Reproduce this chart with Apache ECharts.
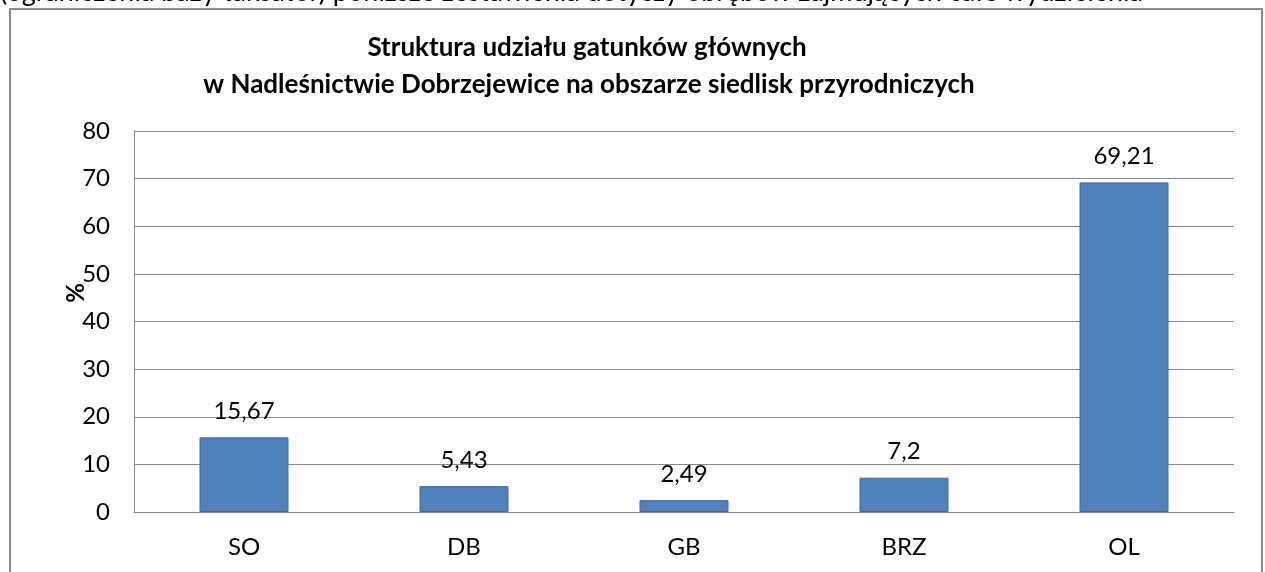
<!DOCTYPE html>
<html>
<head>
<meta charset="utf-8">
<script src="https://cdn.jsdelivr.net/npm/echarts@6/dist/echarts.min.js"></script>
<style>
html,body{margin:0;padding:0;background:#fff;}
#chart{width:1265px;height:572px;}
</style>
</head>
<body>
<div id="chart"></div>
<script>
const categories = ['SO', 'DB', 'GB', 'BRZ', 'OL'];
const values = [15.67, 5.43, 2.49, 7.2, 69.21];
const yTicks = [0, 10, 20, 30, 40, 50, 60, 70, 80];
const titleLines = ['Struktura udziału gatunków głównych', 'w Nadleśnictwie Dobrzejewice na obszarze siedlisk przyrodniczych'];
const yAxisName = '%';
const topNote = '(ograniczenia bazy taksator) poniższe zestawienia dotyczy obrębów zajmujących całe wydzielenia';

const FONT = 'Lato, "Open Sans", sans-serif';
const chart = echarts.init(document.getElementById('chart'), null, {renderer: 'canvas'});
chart.setOption({
  animation: false,
  backgroundColor: '#ffffff',
  grid: {left: 134, right: 31, top: 131, bottom: 60, containLabel: false},
  graphic: [
    {type: 'rect', shape: {x: 10, y: 9, width: 1252, height: 600}, style: {fill: 'none', stroke: '#8c8c8c', lineWidth: 2}, z: -1},
    {type: 'text', x: 0, y: 6, style: {text: topNote, font: '27px ' + FONT, fill: '#000', textVerticalAlign: 'bottom'}},
    {type: 'text', x: 587, y: 48, style: {text: titleLines[0], font: 'bold 26px ' + FONT, fill: '#000', align: 'center', verticalAlign: 'middle'}},
    {type: 'text', x: 589, y: 85, style: {text: titleLines[1], font: 'bold 26px ' + FONT, fill: '#000', align: 'center', verticalAlign: 'middle'}},
    {type: 'text', x: 76, y: 293, rotation: Math.PI / 2, style: {text: yAxisName, font: 'bold 24px ' + FONT, fill: '#000', align: 'center', verticalAlign: 'middle'}}
  ],
  xAxis: {
    type: 'category',
    data: categories,
    axisLine: {lineStyle: {color: '#868686', width: 1}},
    axisTick: {show: false},
    axisLabel: {color: '#000', fontSize: 24, fontFamily: FONT, margin: 23}
  },
  yAxis: {
    type: 'value',
    min: yTicks[0],
    max: yTicks[yTicks.length - 1],
    interval: 10,
    axisLine: {show: true, lineStyle: {color: '#868686', width: 1}},
    axisTick: {show: false},
    splitLine: {lineStyle: {color: '#868686', width: 1}},
    axisLabel: {color: '#000', fontSize: 24, fontFamily: FONT, margin: 24}
  },
  series: [{
    type: 'bar',
    data: values,
    barWidth: 89,
    itemStyle: {color: '#4f81bd', borderColor: '#3c6a9e', borderWidth: 1},
    label: {
      show: true, position: 'top', distance: 14, color: '#000', fontSize: 24, fontFamily: FONT,
      formatter: p => String(p.value).replace('.', ',')
    }
  }]
});
</script>
</body>
</html>
